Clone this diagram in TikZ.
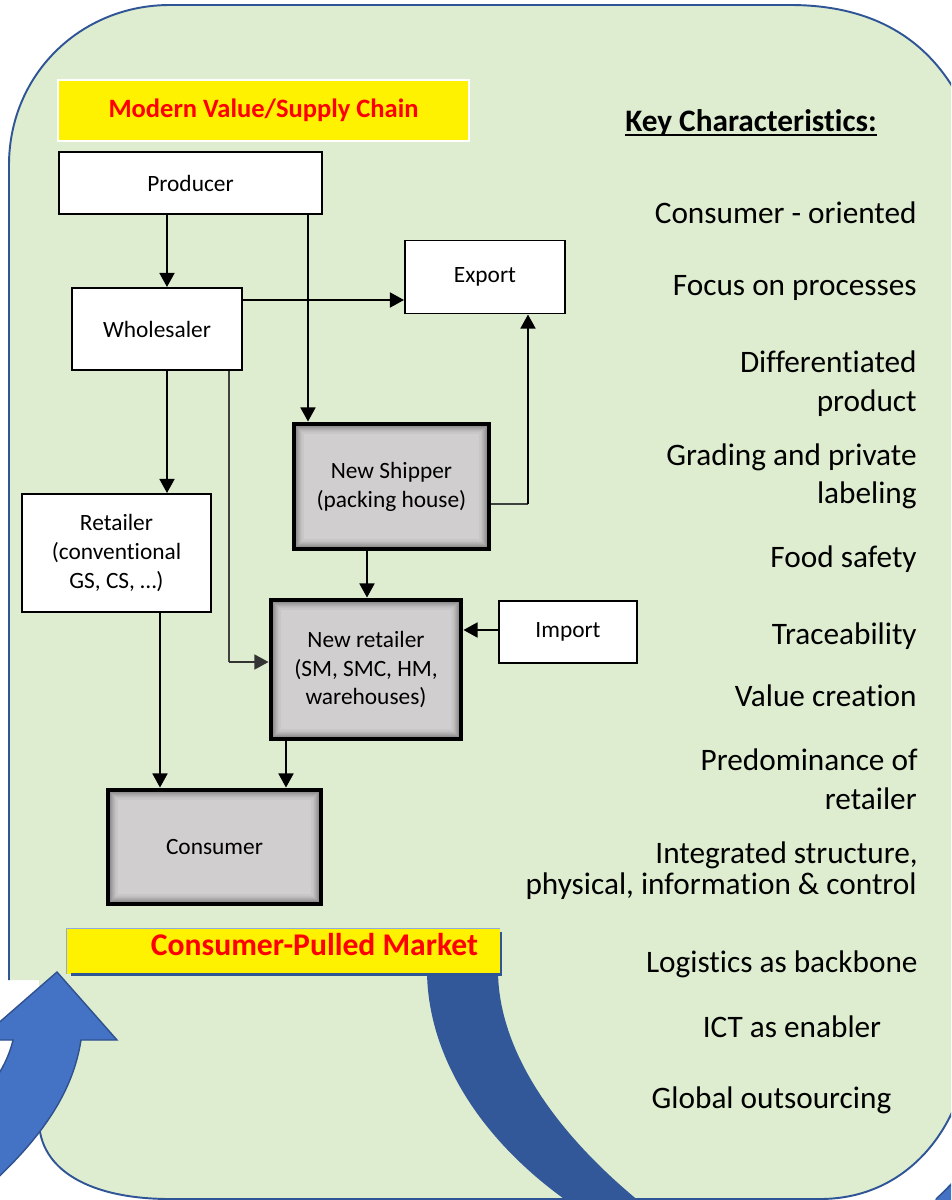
\documentclass[tikz,border=0pt]{standalone}
\usepackage{fontspec}
\setmainfont{Carlito}[Ligatures={NoCommon}]
\usetikzlibrary{arrows.meta}
\definecolor{bggreen}{HTML}{DEEDD0}
\definecolor{rimblue}{HTML}{2F5597}
\definecolor{arcblue}{HTML}{335899}
\definecolor{arrowblue}{HTML}{4472C4}
\definecolor{arrowedge}{HTML}{2F528F}
\definecolor{boxgrey}{HTML}{D0CECE}
\definecolor{lightedge}{HTML}{8FAADC}
\newcommand\pu{0.02cm}
\begin{document}
\begin{tikzpicture}[x=0.02cm,y=-0.02cm,
  sz/.style 2 args={minimum width=#1*\pu, minimum height=#2*\pu},
  box/.style={draw=black, line width=1.13pt, fill=white, inner sep=0pt, align=center,
    font=\fontsize{13.3}{16.5}\selectfont},
  greybox/.style={box, fill=boxgrey, line width=2.8pt,
    path picture={
      \foreach \d/\c in {3/30,4/25,5/20,6/15,7/11,8/7,9/4}{
        \draw[black!\c!boxgrey, line width=0.65pt]
          ([shift={(\d,-\d)}]path picture bounding box.south west) rectangle
          ([shift={(-\d,\d)}]path picture bounding box.north east);
      }}},
  arr/.style={line width=1.13pt, -{Triangle[length=8pt,width=8.5pt]}},
  thinline/.style={line width=0.7pt, draw=black!75},
  rtxt/.style={inner sep=0pt, font=\fontsize{17.8}{21}\selectfont},
]
\useasboundingbox (0,0) rectangle (951,1200);
\clip (0,0) rectangle (951,1200);
\fill[white] (0,0) rectangle (951,1200);

% green background shape
\fill[bggreen] (9,980) -- (9,165) .. controls (9,75) and (80,5) .. (170,5) -- (790,5)
  .. controls (880,5) and (935,45) .. (965,110) -- (965,1075)
  .. controls (950,1140) and (900,1199) .. (820,1199) -- (170,1199)
  .. controls (90,1199) and (39,1170) .. (39,1120) -- (39,980) -- cycle;
\draw[rimblue, line width=1.1pt] (9,980) -- (9,165) .. controls (9,75) and (80,5) .. (170,5) -- (790,5)
  .. controls (880,5) and (935,45) .. (965,110);
\draw[rimblue, line width=1.1pt] (965,1075)
  .. controls (950,1140) and (900,1199) .. (820,1199) -- (170,1199)
  .. controls (90,1199) and (39,1170) .. (39,1120);

% dark blue curved band
\fill[arcblue] (427,970) .. controls (427,1050) and (475,1140) .. (580,1210) -- (650,1210)
  .. controls (555,1135) and (498,1050) .. (498,970) -- cycle;

% light blue curved arrow
\filldraw[fill=arrowblue, draw=arrowedge, line width=0.8pt] (57,972) -- (117,1040) -- (81,1040)
  .. controls (74,1085) and (50,1130) .. (-10,1185) -- (-60,1185) -- (-60,1130)
  .. controls (-25,1110) and (5,1075) .. (13,1040) -- (-21,1040) -- cycle;
\fill[arrowblue] (951,1183) -- (934,1201) -- (951,1201) -- cycle;
\draw[arrowedge, line width=0.8pt] (951,1185) -- (936,1199);

% title boxes
\node[box, sz={411}{61}, fill=yellow, draw=white, line width=1.2pt, text=red,
  font=\bfseries\fontsize{15.1}{18}\selectfont] (title) at (263.5,110.5) {Modern Value/Supply Chain};
\node[inner sep=0pt, fill=yellow, sz={433}{45}] (pulled) at (283.5,951.5) {};
\draw[lightedge, line width=0.9pt] (pulled.south west) -- (pulled.north west) -- (pulled.north east);
\draw[rimblue, line width=1.3pt] ([xshift=4*\pu]pulled.south west) -- ([xshift=1*\pu]pulled.south east)
  -- ([xshift=1*\pu,yshift=-3*\pu]pulled.north east);
\node[inner sep=0pt, anchor=base, text=red, font=\bfseries\fontsize{18}{21}\selectfont]
  (pulledtxt) at (314.5,955) {Consumer-Pulled Market};

% chain boxes
\node[box, sz={263}{62}] (prod) at (190.5,183) {Producer};
\node[box, sz={170}{82}] (whole) at (157,329) {Wholesaler};
\node[box, sz={160}{73}] (export) at (485,277) {Export};
\node[greybox, sz={195}{125}] (ship) at (391.5,486.5) {New Shipper\\(packing house)};
\node[box, sz={189}{118}] (ret) at (116.5,553) {Retailer\\(conventional\\GS, CS, …)};
\node[greybox, sz={190}{139}] (newret) at (366,669.5) {New retailer\\(SM, SMC, HM,\\warehouses)};
\node[box, sz={138}{62}] (import) at (568,632) {Import};
\node[greybox, sz={213}{114}] (cons) at (214.5,847) {Consumer};

% guide coordinates for connector columns / rows
\coordinate (xa) at (167,0);
\coordinate (xb) at (308,0);
\coordinate (xc) at (229,0);
\coordinate (xe) at (160,0);
\coordinate (xf) at (286,0);
\coordinate (xg) at (367,0);
\coordinate (ya) at (0,300);
\coordinate (yb) at (0,504);
\coordinate (yc) at (0,662);
\coordinate (yd) at (0,630);
\coordinate (bendE) at (528,504);
\coordinate (bendW) at (229,662);

% connectors
\draw[arr] (prod.south -| xa) -- (whole.north -| xa);
\draw[arr] (prod.south -| xb) -- (ship.north -| xb);
\draw[arr] (whole.east |- ya) -- (export.west |- ya);
\draw[arr] (whole.south -| xa) -- (ret.north -| xa);
\draw[thinline] (whole.south -| xc) -- (bendW);
\draw[arr, line width=0.9pt, draw=black!80] (bendW) -- (newret.west |- yc);
\draw[thinline] (ship.east |- yb) -- (bendE);
\draw[arr] (bendE) -- (export.south -| bendE);
\draw[arr] (ship.south -| xg) -- (newret.north -| xg);
\draw[arr] (import.west |- yd) -- (newret.east |- yd);
\draw[arr] (ret.south -| xe) -- (cons.north -| xe);
\draw[arr] (newret.south -| xf) -- (cons.north -| xf);

% key characteristics
\node[rtxt, anchor=base west, font=\bfseries\fontsize{17.8}{21}\selectfont] (key) at (625,131) {Key Characteristics:};
\draw[line width=1pt] ([yshift=-4*\pu]key.base west) -- ([yshift=-4*\pu]key.base east);
\node[rtxt, anchor=base east] (k1) at (917,223) {Consumer - oriented};
\node[rtxt, anchor=base east] (k2) at (917,295) {Focus on processes};
\node[rtxt, anchor=base east] (k3a) at (917,372) {Differentiated};
\node[rtxt, anchor=base east] (k3b) at (917,411) {product};
\node[rtxt, anchor=base east] (k4a) at (917,465) {Grading and private};
\node[rtxt, anchor=base east] (k4b) at (917,503) {labeling};
\node[rtxt, anchor=base east] (k5) at (917,567) {Food safety};
\node[rtxt, anchor=base east] (k6) at (917,644) {Traceability};
\node[rtxt, anchor=base east] (k7) at (917,706) {Value creation};
\node[rtxt, anchor=base east] (k8a) at (918,770) {Predominance of};
\node[rtxt, anchor=base east] (k8b) at (917,809) {retailer};
\node[rtxt, anchor=base east] (k9a) at (918,863) {Integrated structure,};
\node[rtxt, anchor=base east] (k9b) at (917,894) {physical, information \& control};
\node[rtxt, anchor=base east] (k10) at (918,972) {Logistics as backbone};
\node[rtxt, anchor=base] (k11) at (792,1037) {ICT as enabler};
\node[rtxt, anchor=base] (k12) at (771.5,1108) {Global outsourcing};
\end{tikzpicture}
\end{document}
